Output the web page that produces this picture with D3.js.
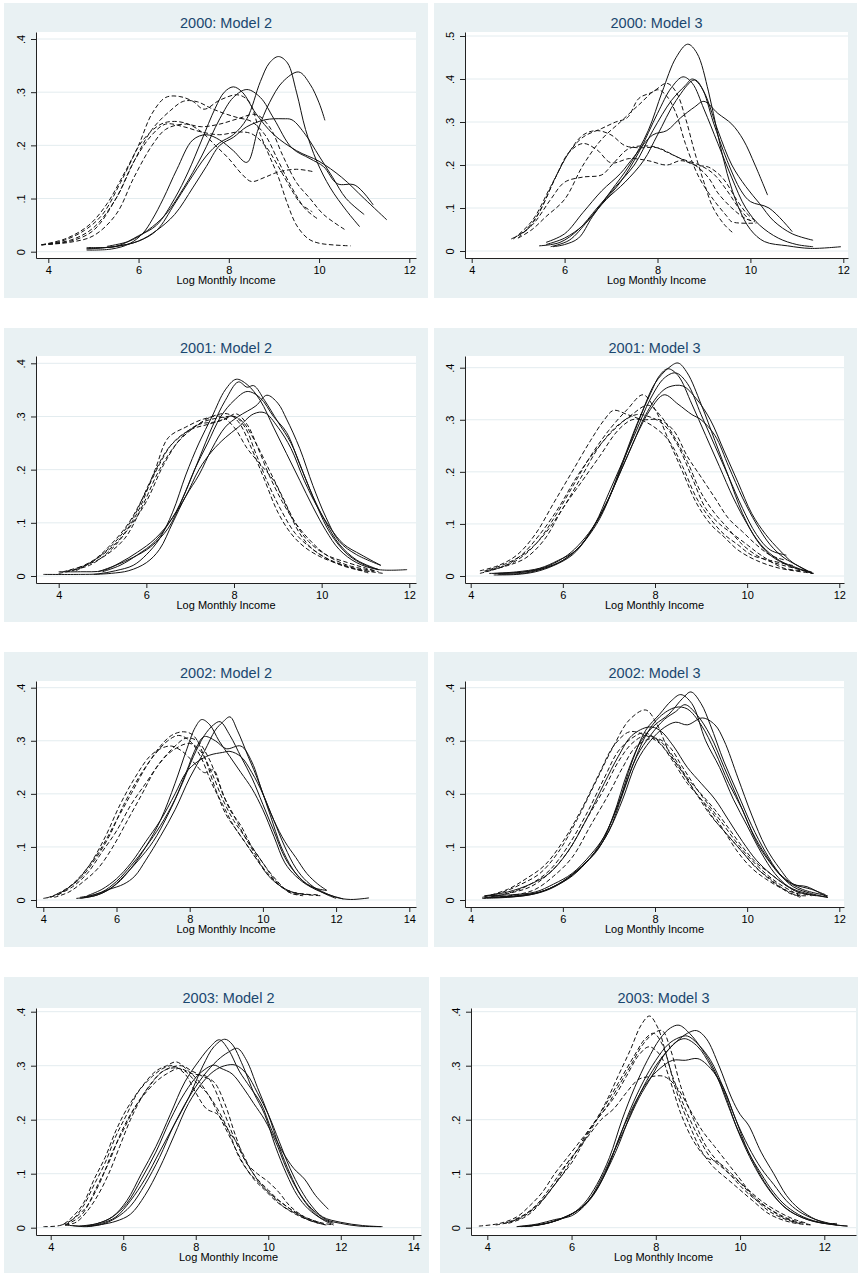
<!DOCTYPE html>
<html>
<head>
<meta charset="utf-8">
<script src="https://cdn.jsdelivr.net/npm/d3@7"></script>
<style>
  body { margin: 0; background: #fff; }
  text { font-family: "Liberation Sans", Arial, sans-serif; }
</style>
</head>
<body>
<svg id="chart" width="859" height="1273"></svg>
<script>
// panel titles and axis ticks
const panelTitles = ['2000: Model 2', '2000: Model 3', '2001: Model 2', '2001: Model 3',
                     '2002: Model 2', '2002: Model 3', '2003: Model 2', '2003: Model 3']
const xTicks12 = [4, 6, 8, 10, 12]
const xTicks14 = [4, 6, 8, 10, 12, 14]
const yTicks4 = [0, 0.1, 0.2, 0.3, 0.4]
const yTicks5 = [0, 0.1, 0.2, 0.3, 0.4, 0.5]
const xTitle = 'Log Monthly Income'

// density curves, [log income, density]
const solid2000m2 = [
  [[4.85,.003],[5.4,.005],[5.8,.015],[6.1,.035],[6.3,.06],[6.55,.1],[6.85,.155],[7.2,.21],[7.5,.22],[7.8,.21],[8.1,.19],[8.4,.168],[8.65,.23],[8.9,.28],[9.2,.32],[9.55,.338],[9.8,.315],[10.0,.28],[10.13,.247]],
  [[4.85,.006],[5.5,.01],[6.0,.02],[6.4,.04],[6.8,.09],[7.1,.13],[7.5,.18],[7.8,.205],[8.1,.22],[8.4,.25],[8.7,.32],[8.9,.355],[9.1,.367],[9.3,.355],[9.5,.3],[9.7,.23],[9.95,.17],[10.25,.12],[10.6,.078],[10.9,.047]],
  [[4.85,.008],[5.5,.01],[6.0,.03],[6.4,.05],[6.8,.1],[7.1,.15],[7.4,.21],[7.7,.27],[7.9,.3],[8.1,.31],[8.3,.3],[8.6,.26],[9.0,.22],[9.5,.19],[10.0,.17],[10.5,.14],[11.0,.1],[11.5,.06]],
  [[5.3,.01],[5.8,.02],[6.2,.04],[6.6,.07],[7.0,.12],[7.4,.18],[7.8,.25],[8.1,.29],[8.4,.305],[8.7,.29],[9.0,.25],[9.4,.195],[9.8,.175],[10.1,.16],[10.4,.128],[10.8,.125],[11.2,.088]],
  [[4.85,.005],[5.5,.01],[6.0,.02],[6.4,.04],[6.8,.07],[7.2,.12],[7.5,.16],[7.8,.2],[8.1,.215],[8.4,.235],[8.8,.248],[9.2,.25],[9.4,.248],[9.7,.22],[10.0,.18],[10.3,.14],[10.6,.1],[11.0,.07]]
]
const dash2000m2 = [
  [[3.85,.013],[4.3,.02],[4.8,.04],[5.2,.07],[5.6,.13],[6.0,.2],[6.3,.26],[6.6,.29],[6.9,.292],[7.2,.283],[7.45,.268],[7.8,.285],[8.2,.295],[8.45,.282],[8.7,.22],[8.9,.18],[9.1,.14],[9.3,.09],[9.5,.05],[9.75,.025],[10.0,.016],[10.7,.011]],
  [[3.85,.013],[4.4,.025],[4.9,.05],[5.3,.09],[5.7,.15],[6.1,.21],[6.5,.24],[6.8,.245],[7.1,.24],[7.4,.225],[7.7,.2],[8.0,.175],[8.3,.145],[8.5,.132],[8.8,.14],[9.1,.15],[9.5,.155],[9.9,.15]],
  [[3.85,.013],[4.5,.02],[5.0,.04],[5.5,.1],[5.9,.17],[6.3,.22],[6.6,.24],[7.0,.235],[7.4,.225],[7.8,.22],[8.2,.225],[8.5,.222],[8.8,.2],[9.1,.16],[9.4,.115],[9.6,.09],[9.85,.075]],
  [[3.85,.013],[4.5,.018],[5.0,.03],[5.5,.07],[5.9,.14],[6.3,.2],[6.6,.23],[7.0,.24],[7.4,.235],[7.8,.24],[8.2,.25],[8.6,.258],[8.9,.235],[9.2,.18],[9.5,.13],[9.8,.1],[10.1,.07],[10.6,.04]],
  [[3.85,.013],[4.5,.022],[5.0,.045],[5.5,.1],[5.9,.17],[6.3,.23],[6.7,.265],[7.0,.283],[7.3,.282],[7.6,.27],[7.9,.26],[8.2,.252],[8.5,.245],[8.8,.22],[9.1,.17],[9.4,.12],[9.7,.08],[10.0,.06]]
]
const solid2000m3 = [
  [[5.75,.01],[6.0,.015],[6.3,.03],[6.6,.08],[7.0,.14],[7.4,.2],[7.8,.28],[8.1,.37],[8.4,.45],[8.65,.481],[8.85,.46],[9.1,.37],[9.3,.27],[9.5,.18],[9.75,.1],[10.0,.05],[10.3,.022],[10.8,.012],[11.3,.006],[11.95,.01]],
  [[5.6,.015],[6.0,.03],[6.4,.06],[6.8,.11],[7.2,.16],[7.6,.23],[8.0,.32],[8.3,.38],[8.55,.405],[8.75,.39],[9.0,.33],[9.3,.25],[9.6,.17],[9.9,.1],[10.2,.06],[10.6,.03],[11.0,.015],[11.35,.01]],
  [[5.45,.012],[5.9,.02],[6.3,.05],[6.7,.1],[7.1,.15],[7.5,.2],[7.9,.28],[8.3,.35],[8.6,.385],[8.75,.4],[8.95,.38],[9.2,.3],[9.5,.21],[9.8,.14],[10.0,.115],[10.4,.1],[10.9,.045]],
  [[5.7,.01],[6.1,.025],[6.5,.07],[6.9,.12],[7.3,.16],[7.7,.21],[8.0,.27],[8.4,.35],[8.8,.398],[9.0,.37],[9.3,.28],[9.6,.2],[9.9,.15],[10.2,.11],[10.5,.07],[10.9,.04],[11.35,.025]],
  [[5.6,.02],[6.0,.04],[6.4,.09],[6.8,.14],[7.2,.18],[7.5,.22],[7.9,.27],[8.2,.28],[8.5,.31],[8.8,.335],[9.0,.348],[9.3,.32],[9.6,.295],[9.85,.258],[10.1,.2],[10.37,.13]]
]
const dash2000m3 = [
  [[4.85,.028],[5.2,.05],[5.5,.1],[5.8,.17],[6.1,.23],[6.4,.265],[6.8,.285],[7.1,.3],[7.35,.31],[7.6,.355],[7.9,.37],[8.2,.39],[8.4,.37],[8.6,.31],[8.8,.23],[9.0,.16],[9.2,.1],[9.45,.06],[9.65,.04]],
  [[4.9,.03],[5.3,.06],[5.7,.12],[6.0,.16],[6.4,.172],[6.8,.177],[7.05,.204],[7.4,.239],[7.9,.243],[8.2,.23],[8.5,.215],[8.9,.2],[9.2,.18],[9.5,.14],[9.75,.1],[10.0,.07]],
  [[5.0,.03],[5.3,.05],[5.6,.08],[6.0,.12],[6.4,.2],[6.8,.26],[7.2,.3],[7.6,.34],[8.0,.375],[8.2,.36],[8.4,.32],[8.6,.25],[8.9,.17],[9.2,.12],[9.5,.08],[9.6,.068],[10.13,.065]],
  [[4.9,.028],[5.3,.07],[5.7,.15],[6.1,.23],[6.4,.27],[6.7,.28],[7.0,.27],[7.3,.245],[7.6,.24],[8.0,.24],[8.4,.22],[8.8,.2],[9.1,.195],[9.4,.17],[9.7,.12],[9.9,.09],[10.1,.07]],
  [[5.0,.03],[5.4,.08],[5.8,.17],[6.1,.23],[6.4,.25],[6.7,.235],[7.0,.205],[7.4,.215],[7.8,.21],[8.2,.2],[8.5,.21],[8.8,.2],[9.1,.17],[9.3,.135],[9.6,.1],[9.9,.075],[10.1,.068]]
]
const solid2001m2 = [
  [[3.65,.003],[4.5,.003],[4.9,.004],[5.3,.01],[5.7,.02],[6.0,.04],[6.3,.07],[6.6,.12],[6.9,.19],[7.2,.25],[7.5,.3],[7.8,.35],[8.05,.37],[8.3,.36],[8.6,.33],[8.9,.28],[9.2,.23],[9.5,.18],[9.8,.13],[10.1,.085],[10.4,.05],[10.8,.025],[11.3,.012],[11.95,.012]],
  [[4.0,.008],[4.5,.008],[5.0,.01],[5.4,.025],[5.8,.045],[6.2,.07],[6.6,.11],[6.9,.16],[7.2,.22],[7.5,.28],[7.8,.33],[8.1,.365],[8.3,.355],[8.45,.358],[8.7,.33],[9.0,.29],[9.3,.25],[9.6,.19],[9.9,.13],[10.2,.08],[10.6,.04],[11.0,.02],[11.3,.012]],
  [[4.9,.008],[5.3,.02],[5.7,.035],[6.1,.055],[6.5,.09],[6.8,.14],[7.1,.2],[7.4,.25],[7.7,.3],[8.0,.33],[8.3,.347],[8.6,.335],[8.9,.3],[9.2,.27],[9.5,.21],[9.8,.15],[10.1,.1],[10.4,.06],[10.8,.03],[11.3,.012]],
  [[4.8,.003],[5.2,.005],[5.6,.01],[6.0,.025],[6.3,.05],[6.6,.1],[6.9,.15],[7.2,.19],[7.5,.24],[7.8,.28],[8.1,.3],[8.5,.32],[8.75,.34],[9.0,.325],[9.2,.295],[9.5,.24],[9.8,.17],[10.1,.11],[10.4,.065],[10.8,.04],[11.35,.02]],
  [[5.0,.008],[5.4,.02],[5.8,.04],[6.2,.065],[6.6,.11],[6.9,.15],[7.2,.2],[7.5,.235],[7.8,.26],[8.1,.28],[8.45,.305],[8.7,.307],[9.0,.28],[9.3,.24],[9.6,.18],[9.9,.13],[10.2,.09],[10.5,.06],[10.9,.04],[11.35,.02]]
]
const dash2001m2 = [
  [[4.0,.005],[4.5,.015],[5.0,.04],[5.4,.07],[5.8,.12],[6.2,.2],[6.5,.26],[6.9,.28],[7.3,.295],[7.7,.3],[8.0,.28],[8.3,.24],[8.6,.21],[8.9,.18],[9.2,.13],[9.5,.08],[9.8,.05],[10.2,.03],[10.7,.015],[11.1,.005]],
  [[4.1,.008],[4.6,.02],[5.0,.035],[5.5,.07],[5.9,.13],[6.3,.2],[6.7,.25],[7.1,.28],[7.5,.3],[7.85,.305],[8.1,.29],[8.4,.24],[8.7,.18],[9.0,.12],[9.3,.08],[9.6,.055],[10.0,.035],[10.5,.02],[11.0,.01],[11.4,.005]],
  [[4.2,.01],[4.7,.02],[5.2,.05],[5.6,.09],[6.0,.14],[6.4,.21],[6.8,.26],[7.2,.285],[7.6,.29],[8.0,.3],[8.25,.28],[8.5,.23],[8.8,.17],[9.1,.12],[9.4,.08],[9.8,.05],[10.3,.025],[10.8,.012],[11.2,.008]],
  [[4.3,.01],[4.8,.03],[5.2,.06],[5.6,.1],[6.0,.16],[6.3,.21],[6.6,.25],[7.0,.275],[7.4,.285],[7.8,.295],[8.05,.305],[8.3,.285],[8.55,.24],[8.8,.19],[9.1,.14],[9.4,.1],[9.7,.07],[10.1,.04],[10.6,.02],[11.2,.01]],
  [[4.4,.01],[4.9,.035],[5.3,.065],[5.7,.11],[6.1,.18],[6.5,.24],[6.9,.27],[7.3,.29],[7.7,.298],[8.0,.3],[8.2,.29],[8.5,.25],[8.8,.2],[9.1,.15],[9.4,.1],[9.7,.065],[10.1,.04],[10.6,.025],[11.0,.015],[11.3,.008]]
]
const solid2001m3 = [
  [[4.5,.002],[5.0,.003],[5.4,.008],[5.8,.02],[6.2,.04],[6.5,.07],[6.8,.11],[7.1,.17],[7.4,.24],[7.7,.31],[8.0,.37],[8.3,.4],[8.5,.409],[8.7,.39],[9.0,.33],[9.3,.26],[9.6,.19],[9.9,.12],[10.2,.07],[10.5,.04],[10.9,.02],[11.42,.005]],
  [[4.4,.005],[4.9,.006],[5.3,.01],[5.7,.02],[6.1,.04],[6.4,.065],[6.7,.1],[7.0,.15],[7.3,.22],[7.6,.29],[7.9,.35],[8.1,.385],[8.28,.398],[8.5,.385],[8.8,.33],[9.1,.27],[9.4,.21],[9.7,.15],[10.0,.1],[10.3,.06],[10.7,.03],[11.1,.015],[11.42,.005]],
  [[4.6,.003],[5.2,.006],[5.6,.015],[6.0,.03],[6.4,.06],[6.7,.1],[7.0,.16],[7.3,.22],[7.6,.28],[7.9,.34],[8.2,.38],[8.45,.39],[8.7,.37],[9.0,.31],[9.3,.25],[9.6,.19],[9.9,.13],[10.2,.08],[10.5,.05],[10.85,.04]],
  [[4.5,.005],[5.0,.008],[5.5,.015],[5.9,.03],[6.3,.05],[6.6,.085],[6.9,.13],[7.2,.19],[7.5,.25],[7.8,.31],[8.1,.35],[8.3,.363],[8.6,.365],[8.9,.34],[9.2,.3],[9.5,.24],[9.8,.18],[10.1,.12],[10.4,.08],[10.7,.05],[11.0,.025],[11.42,.005]],
  [[4.6,.005],[5.1,.007],[5.6,.015],[6.0,.03],[6.4,.06],[6.7,.1],[7.0,.15],[7.3,.21],[7.6,.27],[7.9,.32],[8.2,.348],[8.5,.33],[8.8,.31],[9.0,.3],[9.3,.27],[9.6,.21],[9.9,.15],[10.2,.1],[10.5,.06],[10.8,.035],[11.1,.02],[11.42,.005]]
]
const dash2001m3 = [
  [[4.2,.005],[4.6,.015],[5.0,.03],[5.4,.06],[5.8,.11],[6.2,.17],[6.6,.23],[7.0,.28],[7.4,.32],[7.74,.348],[8.0,.32],[8.3,.26],[8.6,.2],[8.9,.14],[9.2,.1],[9.5,.075],[9.8,.05],[10.2,.03],[10.7,.015],[11.45,.005]],
  [[4.3,.008],[4.7,.018],[5.1,.04],[5.5,.08],[5.9,.13],[6.3,.19],[6.7,.24],[7.1,.28],[7.5,.31],[7.85,.328],[8.1,.31],[8.4,.27],[8.7,.22],[9.0,.16],[9.3,.12],[9.6,.09],[9.9,.06],[10.3,.035],[10.8,.02],[11.4,.008]],
  [[4.2,.01],[4.6,.02],[5.0,.04],[5.4,.08],[5.8,.14],[6.2,.2],[6.6,.26],[6.9,.3],[7.1,.318],[7.4,.31],[7.7,.3],[8.0,.285],[8.3,.26],[8.6,.21],[8.9,.15],[9.2,.11],[9.5,.08],[9.8,.06],[10.1,.04],[10.5,.03],[11.0,.02]],
  [[4.4,.012],[4.8,.025],[5.2,.045],[5.6,.08],[6.0,.13],[6.4,.19],[6.8,.25],[7.2,.29],[7.6,.31],[7.9,.305],[8.2,.29],[8.5,.25],[8.8,.19],[9.1,.13],[9.4,.1],[9.7,.08],[10.0,.06],[10.3,.04],[10.8,.015],[11.3,.01]],
  [[4.3,.01],[4.8,.02],[5.2,.035],[5.6,.07],[6.0,.13],[6.4,.18],[6.8,.23],[7.2,.28],[7.5,.3],[7.8,.3],[8.1,.3],[8.4,.28],[8.7,.23],[9.0,.19],[9.3,.15],[9.6,.11],[9.9,.085],[10.2,.06],[10.5,.04],[10.85,.03]]
]
const solid2002m2 = [
  [[5.0,.003],[5.5,.01],[6.0,.03],[6.4,.06],[6.8,.1],[7.2,.15],[7.6,.22],[7.9,.28],[8.15,.325],[8.33,.34],[8.55,.33],[8.8,.3],[9.1,.27],[9.4,.24],[9.7,.21],[10.0,.17],[10.3,.12],[10.6,.07],[10.9,.045],[11.3,.025],[11.74,.018]],
  [[4.9,.003],[5.4,.008],[5.8,.02],[6.2,.045],[6.6,.075],[7.0,.11],[7.4,.16],[7.8,.22],[8.1,.27],[8.4,.31],[8.65,.33],[8.83,.336],[9.1,.31],[9.4,.27],[9.7,.23],[10.0,.18],[10.3,.13],[10.6,.08],[10.9,.05],[11.3,.025],[11.8,.01],[12.2,.002]],
  [[5.0,.005],[5.4,.01],[5.8,.02],[6.2,.03],[6.5,.045],[6.8,.075],[7.2,.12],[7.6,.17],[8.0,.23],[8.4,.28],[8.7,.32],[8.9,.335],[9.1,.345],[9.3,.32],[9.6,.27],[9.9,.22],[10.2,.16],[10.5,.1],[10.8,.06],[11.1,.035],[11.5,.02],[12.0,.005],[12.4,.001],[12.9,.004]],
  [[5.1,.005],[5.6,.015],[6.0,.035],[6.4,.065],[6.8,.1],[7.2,.14],[7.6,.19],[7.9,.24],[8.2,.29],[8.4,.308],[8.7,.3],[9.0,.285],[9.4,.29],[9.7,.26],[10.0,.2],[10.3,.15],[10.6,.1],[10.9,.06],[11.2,.035],[11.6,.015],[12.0,.003]],
  [[5.2,.008],[5.6,.02],[6.0,.04],[6.4,.07],[6.8,.11],[7.2,.15],[7.6,.2],[7.9,.24],[8.2,.26],[8.55,.273],[8.9,.278],[9.1,.28],[9.4,.27],[9.7,.24],[10.0,.2],[10.3,.15],[10.6,.11],[10.9,.08],[11.2,.05],[11.5,.03],[11.75,.018]]
]
const dash2002m2 = [
  [[4.0,.003],[4.4,.01],[4.8,.03],[5.2,.06],[5.6,.1],[6.0,.15],[6.4,.2],[6.8,.25],[7.2,.29],[7.5,.31],[7.83,.317],[8.1,.31],[8.4,.27],[8.7,.21],[9.0,.16],[9.3,.13],[9.6,.1],[9.9,.07],[10.2,.045],[10.5,.025],[10.8,.012],[11.1,.008]],
  [[4.2,.005],[4.6,.02],[5.0,.04],[5.4,.075],[5.8,.12],[6.2,.18],[6.6,.23],[7.0,.27],[7.4,.3],[7.7,.31],[8.0,.3],[8.3,.27],[8.6,.22],[8.9,.18],[9.2,.14],[9.5,.11],[9.8,.08],[10.1,.05],[10.4,.03],[10.8,.015],[11.2,.01],[11.6,.008]],
  [[4.3,.005],[4.7,.015],[5.1,.035],[5.5,.06],[5.9,.1],[6.3,.15],[6.7,.2],[7.1,.25],[7.5,.28],[8.0,.295],[8.3,.28],[8.6,.24],[8.9,.19],[9.2,.15],[9.5,.12],[9.8,.09],[10.1,.06],[10.4,.035],[10.7,.015],[11.0,.01]],
  [[4.1,.004],[4.5,.015],[4.9,.035],[5.3,.07],[5.7,.12],[6.1,.18],[6.5,.23],[6.9,.27],[7.2,.285],[7.5,.29],[7.8,.28],[8.1,.26],[8.4,.24],[8.65,.245],[8.9,.2],[9.2,.16],[9.5,.12],[9.8,.085],[10.1,.05],[10.4,.03],[10.8,.015],[11.3,.01]],
  [[4.4,.01],[4.8,.025],[5.2,.05],[5.6,.09],[6.0,.13],[6.4,.18],[6.8,.22],[7.2,.26],[7.6,.29],[7.9,.305],[8.2,.3],[8.5,.27],[8.8,.22],[9.1,.17],[9.4,.14],[9.7,.1],[10.0,.07],[10.3,.04],[10.6,.02],[11.0,.012],[11.5,.01]]
]
const solid2002m3 = [
  [[4.25,.003],[4.8,.005],[5.3,.01],[5.7,.02],[6.1,.04],[6.5,.07],[6.8,.1],[7.1,.16],[7.4,.24],[7.7,.3],[8.0,.33],[8.3,.35],[8.6,.38],[8.78,.392],[9.0,.37],[9.2,.33],[9.5,.26],[9.8,.2],[10.1,.14],[10.4,.09],[10.7,.05],[11.0,.025],[11.4,.012],[11.75,.005]],
  [[4.3,.005],[4.9,.006],[5.4,.012],[5.8,.025],[6.2,.045],[6.6,.08],[6.9,.12],[7.2,.18],[7.5,.26],[7.8,.32],[8.1,.35],[8.35,.375],[8.56,.387],[8.8,.37],[9.1,.3],[9.4,.25],[9.7,.19],[10.0,.14],[10.3,.09],[10.6,.05],[10.9,.025],[11.3,.012],[11.75,.005]],
  [[4.3,.008],[4.9,.01],[5.4,.015],[5.8,.03],[6.2,.05],[6.6,.085],[6.9,.12],[7.2,.18],[7.5,.25],[7.8,.31],[8.1,.345],[8.45,.363],[8.7,.36],[9.0,.33],[9.3,.28],[9.6,.22],[9.9,.17],[10.2,.11],[10.5,.07],[10.8,.04],[11.2,.02],[11.75,.008]],
  [[4.4,.005],[5.0,.008],[5.5,.015],[5.9,.03],[6.3,.055],[6.7,.09],[7.0,.13],[7.3,.2],[7.6,.27],[7.9,.31],[8.2,.34],[8.45,.355],[8.65,.368],[8.9,.35],[9.2,.31],[9.5,.25],[9.8,.19],[10.1,.13],[10.4,.085],[10.7,.05],[11.0,.03],[11.4,.02],[11.7,.01]],
  [[4.5,.005],[5.0,.008],[5.5,.015],[5.9,.03],[6.3,.055],[6.7,.09],[7.0,.13],[7.3,.19],[7.6,.26],[7.9,.3],[8.2,.325],[8.45,.335],[8.7,.33],[9.03,.343],[9.3,.33],[9.5,.3],[9.8,.23],[10.1,.16],[10.4,.1],[10.7,.06],[11.0,.03],[11.3,.025],[11.75,.005]],
  [[4.3,.008],[4.8,.015],[5.3,.03],[5.7,.05],[6.1,.09],[6.5,.15],[6.9,.22],[7.2,.27],[7.5,.31],[7.87,.326],[8.1,.32],[8.4,.29],[8.7,.25],[9.0,.22],[9.3,.19],[9.6,.15],[9.9,.11],[10.2,.075],[10.5,.05],[10.8,.03],[11.1,.015],[11.5,.008]]
]
const dash2002m3 = [
  [[4.25,.005],[4.7,.015],[5.1,.03],[5.5,.05],[5.9,.09],[6.3,.15],[6.7,.22],[7.1,.29],[7.45,.34],[7.8,.358],[8.05,.33],[8.3,.28],[8.6,.24],[8.9,.2],[9.2,.17],[9.5,.13],[9.8,.09],[10.1,.06],[10.4,.04],[10.8,.02],[11.2,.01]],
  [[4.3,.006],[4.8,.02],[5.2,.04],[5.6,.065],[6.0,.11],[6.4,.17],[6.8,.24],[7.1,.29],[7.45,.317],[7.8,.31],[8.1,.295],[8.4,.26],[8.7,.22],[9.0,.19],[9.3,.15],[9.6,.12],[9.9,.09],[10.2,.06],[10.5,.04],[10.8,.02],[11.15,.005]],
  [[4.4,.005],[4.9,.015],[5.3,.03],[5.7,.055],[6.1,.1],[6.5,.16],[6.9,.23],[7.2,.28],[7.5,.305],[7.75,.315],[8.0,.305],[8.3,.275],[8.6,.24],[8.9,.2],[9.2,.16],[9.5,.13],[9.8,.1],[10.1,.07],[10.4,.045],[10.7,.025],[11.0,.01],[11.3,.008]],
  [[4.3,.004],[4.8,.012],[5.3,.025],[5.7,.05],[6.1,.09],[6.5,.15],[6.9,.21],[7.2,.26],[7.5,.295],[7.8,.31],[8.1,.3],[8.4,.27],[8.7,.23],[9.0,.2],[9.3,.17],[9.6,.135],[9.9,.1],[10.2,.07],[10.5,.05],[10.8,.03],[11.1,.015],[11.4,.008]],
  [[4.5,.005],[5.0,.01],[5.4,.02],[5.8,.045],[6.2,.08],[6.6,.14],[7.0,.2],[7.3,.25],[7.6,.29],[8.0,.305],[8.3,.29],[8.6,.25],[8.9,.21],[9.2,.175],[9.5,.14],[9.8,.105],[10.1,.075],[10.4,.05],[10.7,.03],[11.0,.015],[11.2,.005]]
]
const solid2003m2 = [
  [[4.4,.005],[4.9,.003],[5.3,.008],[5.7,.02],[6.1,.05],[6.5,.1],[6.9,.15],[7.3,.21],[7.7,.27],[8.1,.31],[8.4,.335],[8.65,.348],[8.9,.33],[9.2,.29],[9.5,.26],[9.8,.23],[10.1,.18],[10.4,.14],[10.7,.11],[11.0,.09],[11.3,.06],[11.66,.034]],
  [[4.6,.004],[5.0,.002],[5.4,.008],[5.8,.02],[6.2,.05],[6.6,.09],[7.0,.14],[7.4,.19],[7.8,.24],[8.2,.3],[8.5,.335],[8.8,.349],[9.0,.34],[9.3,.3],[9.6,.25],[9.9,.21],[10.2,.15],[10.5,.1],[10.8,.06],[11.1,.035],[11.5,.015],[11.8,.005]],
  [[5.0,.002],[5.4,.006],[5.8,.018],[6.2,.04],[6.6,.08],[7.0,.13],[7.4,.19],[7.8,.24],[8.2,.28],[8.6,.31],[8.9,.325],[9.15,.332],[9.4,.31],[9.7,.26],[10.0,.21],[10.3,.15],[10.6,.1],[10.9,.06],[11.2,.035],[11.6,.015],[12.0,.008],[12.5,.003],[13.15,.002]],
  [[4.8,.003],[5.3,.008],[5.7,.02],[6.1,.045],[6.5,.09],[6.9,.14],[7.3,.2],[7.7,.25],[8.1,.285],[8.5,.301],[8.7,.295],[9.0,.285],[9.3,.26],[9.6,.23],[9.9,.2],[10.2,.16],[10.5,.11],[10.8,.07],[11.1,.04],[11.4,.02],[11.8,.008]],
  [[5.0,.003],[5.4,.006],[5.8,.012],[6.2,.025],[6.6,.06],[7.0,.11],[7.4,.17],[7.8,.23],[8.2,.27],[8.5,.29],[8.8,.3],[9.1,.301],[9.4,.285],[9.7,.25],[10.0,.21],[10.3,.16],[10.6,.11],[10.9,.07],[11.2,.04],[11.5,.02],[12.0,.01],[12.6,.004],[13.1,.002]]
]
const dash2003m2 = [
  [[3.8,.002],[4.3,.005],[4.6,.02],[4.9,.045],[5.2,.09],[5.5,.13],[5.8,.18],[6.1,.22],[6.5,.26],[6.9,.29],[7.2,.3],[7.47,.307],[7.8,.29],[8.1,.27],[8.4,.24],[8.7,.2],[9.0,.16],[9.3,.12],[9.6,.09],[9.9,.07],[10.2,.05],[10.5,.035],[10.9,.02],[11.3,.01],[11.6,.005]],
  [[4.3,.005],[4.6,.015],[4.9,.04],[5.2,.08],[5.5,.12],[5.8,.17],[6.1,.21],[6.4,.25],[6.8,.28],[7.1,.295],[7.35,.3],[7.7,.285],[8.0,.25],[8.3,.22],[8.6,.21],[8.9,.18],[9.2,.15],[9.5,.11],[9.8,.08],[10.1,.06],[10.4,.04],[10.8,.025],[11.2,.012],[11.6,.005]],
  [[4.4,.005],[4.7,.02],[5.0,.04],[5.3,.08],[5.6,.12],[5.9,.17],[6.2,.21],[6.5,.24],[6.9,.27],[7.2,.285],[7.55,.295],[7.9,.285],[8.3,.28],[8.5,.26],[8.8,.21],[9.1,.16],[9.4,.12],[9.7,.09],[10.0,.07],[10.3,.05],[10.6,.035],[11.0,.02],[11.4,.01],[11.8,.005]],
  [[4.4,.005],[4.8,.02],[5.1,.05],[5.4,.09],[5.7,.14],[6.0,.18],[6.3,.22],[6.7,.26],[7.1,.29],[7.6,.3],[7.9,.29],[8.2,.28],[8.5,.27],[8.8,.23],[9.1,.17],[9.4,.12],[9.7,.1],[10.0,.085],[10.3,.065],[10.6,.04],[11.0,.02],[11.4,.01]],
  [[4.4,.005],[4.7,.01],[5.0,.03],[5.3,.06],[5.6,.1],[5.9,.15],[6.2,.2],[6.5,.24],[6.8,.27],[7.1,.29],[7.4,.296],[7.7,.29],[8.0,.27],[8.3,.25],[8.6,.22],[8.9,.18],[9.2,.13],[9.5,.1],[9.8,.08],[10.1,.06],[10.4,.045],[10.7,.03],[11.1,.015],[11.5,.008]]
]
const solid2003m3 = [
  [[4.7,.002],[5.2,.005],[5.6,.012],[6.0,.025],[6.3,.045],[6.6,.08],[6.9,.13],[7.2,.2],[7.5,.26],[7.8,.31],[8.1,.35],[8.35,.37],[8.55,.375],[8.8,.36],[9.1,.33],[9.4,.29],[9.7,.23],[10.0,.17],[10.3,.12],[10.6,.08],[10.9,.05],[11.2,.03],[11.6,.015],[12.0,.008],[12.3,.008]],
  [[4.8,.002],[5.3,.006],[5.7,.015],[6.1,.03],[6.4,.05],[6.7,.09],[7.0,.14],[7.3,.19],[7.6,.24],[7.9,.28],[8.2,.32],[8.5,.345],[8.75,.36],[8.97,.365],[9.2,.35],[9.5,.3],[9.8,.24],[10.0,.21],[10.2,.19],[10.5,.14],[10.8,.1],[11.1,.06],[11.4,.035],[11.8,.015],[12.2,.006],[12.55,.003]],
  [[4.9,.002],[5.4,.008],[5.8,.018],[6.2,.035],[6.5,.06],[6.8,.1],[7.1,.16],[7.4,.22],[7.7,.27],[8.0,.31],[8.3,.34],[8.55,.352],[8.75,.355],[9.0,.34],[9.3,.31],[9.6,.26],[9.9,.2],[10.2,.14],[10.5,.1],[10.8,.065],[11.1,.04],[11.5,.02],[12.0,.008],[12.55,.003]],
  [[5.0,.003],[5.5,.01],[5.9,.022],[6.2,.035],[6.5,.06],[6.8,.1],[7.1,.15],[7.4,.21],[7.7,.26],[8.0,.3],[8.3,.33],[8.5,.345],[8.7,.35],[9.0,.335],[9.3,.3],[9.6,.255],[9.9,.19],[10.2,.14],[10.5,.095],[10.8,.06],[11.1,.035],[11.5,.018],[12.0,.008],[12.3,.006]],
  [[4.7,.002],[5.2,.007],[5.6,.015],[6.0,.022],[6.3,.04],[6.6,.07],[6.9,.12],[7.2,.18],[7.5,.23],[7.8,.27],[8.1,.295],[8.4,.31],[8.7,.31],[9.0,.313],[9.3,.295],[9.6,.26],[9.9,.2],[10.2,.15],[10.5,.11],[10.8,.08],[11.1,.05],[11.4,.03],[11.8,.015],[12.3,.005]]
]
const dash2003m3 = [
  [[3.8,.003],[4.3,.008],[4.7,.02],[5.0,.04],[5.3,.065],[5.6,.1],[5.9,.13],[6.2,.16],[6.5,.19],[6.8,.23],[7.1,.28],[7.4,.33],[7.65,.375],[7.85,.392],[8.05,.37],[8.25,.32],[8.5,.25],[8.8,.19],[9.1,.14],[9.4,.11],[9.7,.09],[10.0,.07],[10.3,.05],[10.7,.025],[11.2,.01],[11.7,.005]],
  [[4.2,.005],[4.6,.012],[5.0,.03],[5.3,.05],[5.6,.08],[5.9,.12],[6.2,.15],[6.5,.19],[6.8,.22],[7.1,.26],[7.4,.3],[7.7,.34],[7.95,.36],[8.15,.365],[8.35,.33],[8.6,.26],[8.9,.2],[9.2,.15],[9.5,.12],[9.8,.095],[10.1,.07],[10.4,.05],[10.8,.03],[11.2,.015],[11.7,.005]],
  [[4.4,.008],[4.8,.018],[5.1,.035],[5.4,.06],[5.7,.09],[6.0,.12],[6.3,.16],[6.6,.2],[6.9,.24],[7.2,.28],[7.5,.32],[7.75,.35],[7.95,.36],[8.15,.34],[8.4,.28],[8.7,.22],[9.0,.17],[9.3,.13],[9.6,.11],[9.9,.09],[10.2,.07],[10.5,.05],[10.9,.03],[11.3,.015],[11.6,.008]],
  [[4.5,.01],[4.9,.025],[5.2,.045],[5.5,.075],[5.8,.11],[6.1,.14],[6.4,.18],[6.7,.21],[7.0,.24],[7.3,.28],[7.6,.32],[7.84,.335],[8.1,.32],[8.35,.27],[8.6,.21],[8.9,.16],[9.2,.13],[9.5,.12],[9.8,.1],[10.1,.075],[10.4,.05],[10.7,.03],[11.1,.015],[11.5,.006]],
  [[4.5,.008],[4.9,.02],[5.2,.04],[5.5,.07],[5.8,.1],[6.1,.14],[6.4,.17],[6.7,.2],[7.0,.22],[7.3,.25],[7.6,.275],[7.9,.28],[8.2,.28],[8.5,.26],[8.8,.22],[9.1,.18],[9.4,.15],[9.7,.12],[10.0,.09],[10.3,.06],[10.6,.04],[11.0,.02],[11.4,.008]]
]

const panelSolid = [solid2000m2, solid2000m3, solid2001m2, solid2001m3, solid2002m2, solid2002m3, solid2003m2, solid2003m3]
const panelDash = [dash2000m2, dash2000m3, dash2001m2, dash2001m3, dash2002m2, dash2002m3, dash2003m2, dash2003m3]
const panelXTicks = [xTicks12, xTicks12, xTicks12, xTicks12, xTicks14, xTicks12, xTicks14, xTicks12]
const panelYTicks = [yTicks4, yTicks5, yTicks4, yTicks4, yTicks4, yTicks4, yTicks4, yTicks4]

// layout: panel origin, background box, plot box, pixel positions of first/last ticks
const layout = [
  { ox: 0,   oy: 0,   bg: [4, 3, 428, 298],  plot: [36, 32, 416, 258], xPx: [48.3, 409.3], yPx: [251.7, 39] },
  { ox: 430, oy: 0,   bg: [4, 3, 427, 298],  plot: [35, 32, 418, 258], xPx: [41.7, 413.3], yPx: [251, 36] },
  { ox: 0,   oy: 325, bg: [4, 3, 428, 297],  plot: [36, 31, 416, 258], xPx: [58.7, 409.3], yPx: [251, 38.3] },
  { ox: 430, oy: 325, bg: [4, 3, 427, 297],  plot: [35, 31, 414, 258], xPx: [40.7, 409.3], yPx: [251, 42.7] },
  { ox: 0,   oy: 650, bg: [4, 2, 428, 297],  plot: [36, 31, 416, 257], xPx: [43.3, 409.3], yPx: [250, 37.7] },
  { ox: 430, oy: 650, bg: [4, 2, 427, 297],  plot: [35, 31, 414, 257], xPx: [40.7, 409.3], yPx: [250, 37.7] },
  { ox: 0,   oy: 975, bg: [4, 2, 429, 298],  plot: [36, 33, 421, 260], xPx: [50.7, 413.3], yPx: [252.7, 36.7] },
  { ox: 430, oy: 975, bg: [10, 2, 428, 298], plot: [41, 33, 426, 260], xPx: [57.3, 394.3], yPx: [252.7, 36.7] }
]

const fmtY = d => d === 0 ? '0' : d3.format('.1f')(d).replace(/^0/, '')

const svg = d3.select('#chart')

layout.forEach((L, i) => {
  const [l, t, r, b] = L.plot
  const xt = panelXTicks[i], yt = panelYTicks[i]

  // scales calibrated on the outer ticks, then stretched to the plot box
  const x = d3.scaleLinear().domain([xt[0], xt[xt.length - 1]]).range(L.xPx)
  x.domain([x.invert(l), x.invert(r)]).range([l, r])
  const y = d3.scaleLinear().domain([yt[0], yt[yt.length - 1]]).range(L.yPx)
  y.domain([y.invert(b), y.invert(t)]).range([b, t])

  const g = svg.append('g').attr('transform', `translate(${L.ox},${L.oy})`)

  // graph region + plot region
  g.append('rect')
    .attr('x', L.bg[0]).attr('y', L.bg[1])
    .attr('width', L.bg[2] - L.bg[0]).attr('height', L.bg[3] - L.bg[1])
    .attr('fill', '#e9f1f3')
  g.append('rect')
    .attr('x', l).attr('y', t).attr('width', r - l).attr('height', b - t)
    .attr('fill', '#fff')

  // grid
  g.append('g').selectAll('line')
    .data(yt)
    .enter()
    .append('line')
    .attr('x1', l).attr('x2', r)
    .attr('y1', d => y(d)).attr('y2', d => y(d))
    .attr('stroke', '#e3ecef')
    .attr('stroke-width', 1)

  // title
  g.append('text')
    .attr('x', (l + r) / 2).attr('y', 28)
    .attr('text-anchor', 'middle')
    .attr('font-size', 14.5)
    .attr('fill', '#1a476f')
    .text(panelTitles[i])

  // curves
  const line = d3.line()
    .x(d => x(d[0]))
    .y(d => y(d[1]))
    .curve(d3.curveCatmullRom.alpha(0.5))

  const curves = g.append('g')
  curves.selectAll('path.solid')
    .data(panelSolid[i])
    .enter()
    .append('path')
    .attr('class', 'solid')
    .attr('d', line)
    .style('fill', 'none')
    .style('stroke', '#111')
    .style('stroke-width', 1)
  curves.selectAll('path.dash')
    .data(panelDash[i])
    .enter()
    .append('path')
    .attr('class', 'dash')
    .attr('d', line)
    .style('fill', 'none')
    .style('stroke', '#111')
    .style('stroke-width', 1)
    .style('stroke-dasharray', '4.5,2.5')

  // x axis
  const xa = g.append('g')
    .attr('transform', `translate(0,${b})`)
    .call(d3.axisBottom(x).tickValues(xt).tickSize(5).tickSizeOuter(0).tickFormat(d3.format('d')))
  xa.selectAll('text').attr('y', 16).attr('dy', 0).attr('font-size', 11).attr('fill', '#000')
  xa.selectAll('line, path').attr('stroke', '#222')
  xa.attr('font-family', null)

  g.append('text')
    .attr('x', (l + r) / 2).attr('y', b + 26)
    .attr('text-anchor', 'middle')
    .attr('font-size', 11)
    .attr('fill', '#000')
    .text(xTitle)

  // y axis, labels turned like Stata
  const ya = g.append('g')
    .attr('transform', `translate(${l},0)`)
    .call(d3.axisLeft(y).tickValues(yt).tickSize(5).tickSizeOuter(0).tickFormat(fmtY))
  ya.selectAll('text')
    .attr('transform', 'rotate(-90)')
    .attr('x', 0).attr('y', -11).attr('dy', 0)
    .attr('text-anchor', 'middle')
    .attr('font-size', 11)
    .attr('fill', '#000')
  ya.selectAll('line, path').attr('stroke', '#222')
  ya.attr('font-family', null)
})
</script>
</body>
</html>
